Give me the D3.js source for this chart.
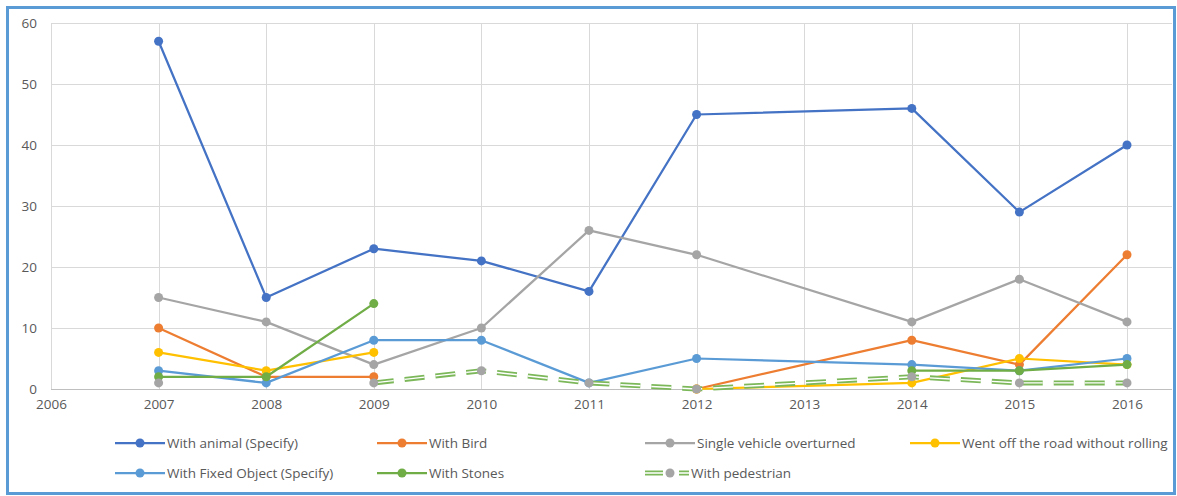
<!DOCTYPE html>
<html>
<head>
<meta charset="utf-8">
<script src="https://cdn.jsdelivr.net/npm/d3@7"></script>
<style>
  html, body { margin: 0; padding: 0; background: #fff; }
  svg { display: block; }
  text { font-family: "Open Sans", Lato, sans-serif; fill: #595959; }
</style>
</head>
<body>
<svg id="chart" width="1177" height="496"></svg>
<script>
// Years on the x axis (no 2013 row in the source table)
const years = [2007, 2008, 2009, 2010, 2011, 2012, 2014, 2015, 2016];
const xTicks = [2006, 2007, 2008, 2009, 2010, 2011, 2012, 2013, 2014, 2015, 2016];
const yTicks = [0, 10, 20, 30, 40, 50, 60];

// Accident counts per year; null = no entry
const withAnimal      = [57, 15, 23, 21, 16, 45, 46, 29, 40];
const withBird        = [10, 2, 2, null, null, 0, 8, 4, 22];
const singleOverturn  = [15, 11, 4, 10, 26, 22, 11, 18, 11];
const wentOffRoad     = [6, 3, 6, null, null, 0, 1, 5, 4];
const withFixedObject = [3, 1, 8, 8, 1, 5, 4, 3, 5];
const withStones      = [2, 2, 14, null, null, null, 3, 3, 4];
const withPedestrian  = [1, null, 1, 3, 1, 0, 2, 1, 1];

const series = [
  { name: "With animal (Specify)", values: withAnimal, color: "#4472c4" },
  { name: "With Bird", values: withBird, color: "#ed7d31" },
  { name: "Single vehicle overturned", values: singleOverturn, color: "#a5a5a5" },
  { name: "Went off the road without rolling", values: wentOffRoad, color: "#ffc000" },
  { name: "With Fixed Object (Specify)", values: withFixedObject, color: "#5b9bd5" },
  { name: "With Stones", values: withStones, color: "#70ad47" },
  { name: "With pedestrian", values: withPedestrian, color: "#7cb85a", marker: "#a5a5a5", dashed: true }
];

const FONT = "'Open Sans', Lato, sans-serif";
const svg = d3.select("#chart");

// Outer frame
svg.append("rect")
  .attr("x", 7.5).attr("y", 7.5)
  .attr("width", 1167).attr("height", 486)
  .attr("fill", "#fff")
  .attr("stroke", "#5b9bd5").attr("stroke-width", 3);

const x = d3.scaleLinear().domain([2006, 2016]).range([51, 1127]);
const y = d3.scaleLinear().domain([0, 60]).range([389, 23]);
const plotRight = 1172;

const grid = svg.append("g");
// Horizontal gridlines
grid.selectAll("line.h").data(yTicks).join("line")
  .attr("x1", x(2006)).attr("x2", plotRight)
  .attr("y1", d => Math.round(y(d)) + 0.5).attr("y2", d => Math.round(y(d)) + 0.5)
  .attr("stroke", d => d === 0 ? "#bfbfbf" : "#d9d9d9").attr("stroke-width", 1);
// Vertical gridlines
grid.selectAll("line.v").data(xTicks).join("line")
  .attr("x1", d => Math.round(x(d)) + 0.5).attr("x2", d => Math.round(x(d)) + 0.5)
  .attr("y1", y(60)).attr("y2", y(0))
  .attr("stroke", "#d9d9d9").attr("stroke-width", 1);

// Y axis labels
const yAxis = d3.axisLeft(y).tickValues(yTicks).tickSize(0).tickPadding(0);
svg.append("g").attr("transform", "translate(37,0)").call(yAxis)
  .call(g => g.select(".domain").remove())
  .call(g => g.selectAll("text").attr("font-size", 13.5).attr("fill", "#595959")
    .attr("font-family", FONT));

// X axis labels
const xAxis = d3.axisBottom(x).tickValues(xTicks).tickFormat(d3.format("d")).tickSize(0).tickPadding(0);
svg.append("g").attr("transform", "translate(0,399)").call(xAxis)
  .call(g => g.select(".domain").remove())
  .call(g => g.selectAll("text").attr("font-size", 13.5).attr("fill", "#595959")
    .attr("font-family", FONT));

// Series lines and markers
const points = s => years.map((yr, i) => ({ yr, v: s.values[i] }));
const line = d3.line().defined(d => d.v !== null).x(d => x(d.yr)).y(d => y(d.v));

function doubleDash(g, pathD, color, dash) {
  g.append("path").attr("d", pathD).attr("fill", "none")
    .attr("stroke", color).attr("stroke-width", 5).attr("stroke-dasharray", dash);
  g.append("path").attr("d", pathD).attr("fill", "none")
    .attr("stroke", "#fff").attr("stroke-width", 1.4).attr("stroke-dasharray", dash);
}

series.forEach(s => {
  const g = svg.append("g");
  const pts = points(s);
  if (s.dashed) {
    doubleDash(g, line(pts), s.color, "20,11");
  } else {
    g.append("path").attr("d", line(pts)).attr("fill", "none")
      .attr("stroke", s.color).attr("stroke-width", 2.25).attr("stroke-linejoin", "round");
  }
  g.selectAll("circle").data(pts.filter(d => d.v !== null)).join("circle")
    .attr("cx", d => x(d.yr)).attr("cy", d => y(d.v)).attr("r", 4.5)
    .attr("fill", s.marker || s.color);
});

// Legend: four columns, two rows
const legendCols = [115, 377, 645, 910];
const legendRows = [443, 473];
series.forEach((s, i) => {
  const px = legendCols[i % 4], py = legendRows[Math.floor(i / 4)];
  const g = svg.append("g").attr("transform", `translate(${px},${py})`);
  if (s.dashed) {
    doubleDash(g, "M0,0H44", s.color, "18,16,10,10");
  } else {
    g.append("line").attr("x1", 0).attr("x2", 50).attr("y1", 0).attr("y2", 0)
      .attr("stroke", s.color).attr("stroke-width", 2.25);
  }
  g.append("circle").attr("cx", 25).attr("cy", 0).attr("r", 4.5).attr("fill", s.marker || s.color);
  g.append("text").attr("x", s.dashed ? 46 : 52).attr("y", 0).attr("dy", "0.35em")
    .attr("font-size", 13.5).attr("font-family", FONT).text(s.name);
});
</script>
</body>
</html>
